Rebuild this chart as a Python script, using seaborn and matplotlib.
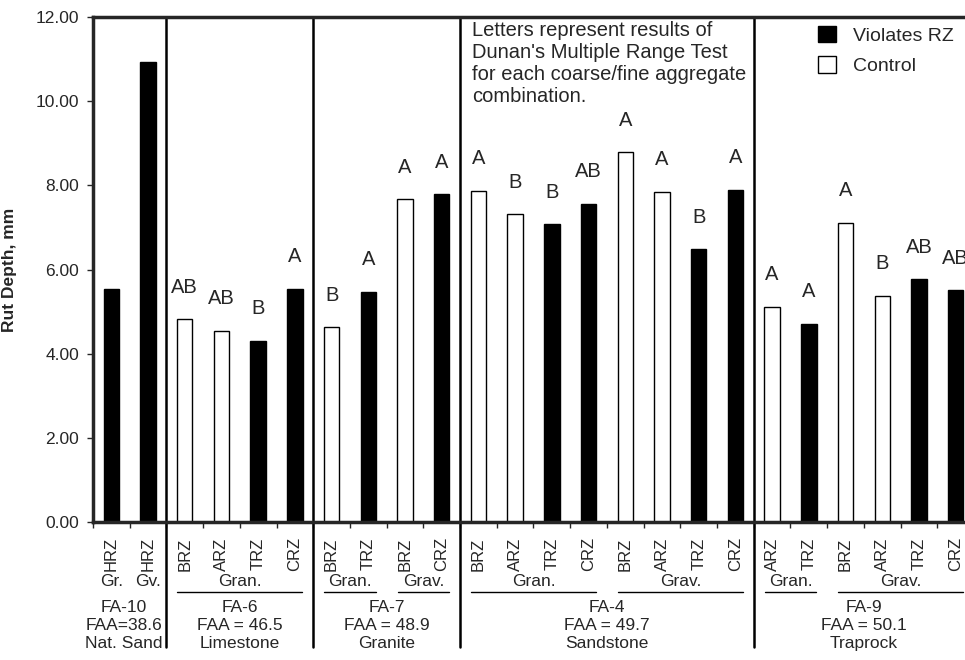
import matplotlib
matplotlib.use("Agg")
import pandas as pd
import seaborn as sns
from matplotlib import pyplot as plt
from matplotlib import transforms

sns.set_theme(style="ticks")
plt.rcParams["font.family"] = ["Liberation Sans", "DejaVu Sans"]

# fine aggregate groups (one entry per group)
groups = ["FA-10", "FA-6", "FA-7", "FA-4", "FA-9"]
faa_labels = ["FAA=38.6", "FAA = 46.5", "FAA = 48.9", "FAA = 49.7", "FAA = 50.1"]
rock_labels = ["Nat. Sand", "Limestone", "Granite", "Sandstone", "Traprock"]

# one entry per bar
bar_group = ["FA-10"] * 2 + ["FA-6"] * 4 + ["FA-7"] * 4 + ["FA-4"] * 8 + ["FA-9"] * 6
bar_coarse = (["Gr.", "Gv."] + ["Gran."] * 4 + ["Gran.", "Gran.", "Grav.", "Grav."]
              + ["Gran."] * 4 + ["Grav."] * 4 + ["Gran.", "Gran."] + ["Grav."] * 4)
zones = ["HRZ", "HRZ",
         "BRZ", "ARZ", "TRZ", "CRZ",
         "BRZ", "TRZ", "BRZ", "CRZ",
         "BRZ", "ARZ", "TRZ", "CRZ", "BRZ", "ARZ", "TRZ", "CRZ",
         "ARZ", "TRZ", "BRZ", "ARZ", "TRZ", "CRZ"]
rut_depth = [5.54, 10.93,
             4.82, 4.55, 4.31, 5.54,
             4.63, 5.47, 7.67, 7.79,
             7.87, 7.31, 7.08, 7.56, 8.79, 7.85, 6.48, 7.89,
             5.12, 4.71, 7.11, 5.38, 5.77, 5.51]
V, C = "Violates RZ", "Control"
status = [V, V,
          C, C, V, V,
          C, V, C, V,
          C, C, V, V, C, C, V, V,
          C, V, C, C, V, V]
letters = ["", "",
           "AB", "AB", "B", "A",
           "B", "A", "A", "A",
           "A", "B", "B", "AB", "A", "A", "B", "A",
           "A", "A", "A", "B", "AB", "AB"]

df = pd.DataFrame({
    "bar": [str(i) for i in range(len(zones))],
    "depth": rut_depth,
    "status": status,
})

fig = plt.figure(figsize=(9.65, 6.6), dpi=100)
ax = fig.add_axes([93 / 965, 138 / 660, 881 / 965, 505 / 660])

sns.barplot(data=df, x="bar", y="depth", hue="status", hue_order=[V, C],
            palette={V: "black", C: "white"}, dodge=False, width=0.42,
            edgecolor="black", linewidth=1, errorbar=None, ax=ax)

ax.set_xlim(-0.5, len(zones) - 0.5)
ax.set_ylim(0, 12)
ax.set_yticks(range(0, 13, 2))
ax.set_yticklabels([f"{v:.2f}" for v in range(0, 13, 2)], fontsize=12.5)
ax.set_xticks(range(len(zones)))
ax.set_xticklabels(zones, rotation=90, fontsize=12)
ax.set_xticks([i - 0.5 for i in range(len(zones) + 1)], minor=True)
ax.tick_params(axis="x", which="major", length=0, pad=11)
ax.tick_params(axis="x", which="minor", length=4, width=1, direction="out")
ax.tick_params(axis="y", length=4, width=1, direction="out", pad=6)
ax.set_xlabel("")
ax.set_ylabel("Rut Depth, mm", fontsize=12.5, fontweight="bold")
ax.yaxis.set_label_coords(-0.086, 0.5)
for side in ["top", "left", "bottom"]:
    ax.spines[side].set_linewidth(2.5)
ax.spines["right"].set_visible(False)

# significance letters above bars
for i, (val, let) in enumerate(zip(rut_depth, letters)):
    if let:
        ax.text(i, val + 0.76, let, ha="center", va="center", fontsize=14.5)

trans = transforms.blended_transform_factory(ax.transData, ax.transAxes)

# group separators, reaching down into the label area
for i in range(1, len(bar_group)):
    if bar_group[i] != bar_group[i - 1]:
        ax.plot([i - 0.5, i - 0.5], [-0.248, 1], transform=trans, color="black",
                lw=1.8, clip_on=False)

# coarse aggregate labels with underlines
start = 0
for i in range(1, len(bar_group) + 1):
    if i == len(bar_group) or bar_group[i] != bar_group[start] or bar_coarse[i] != bar_coarse[start]:
        end = i - 1
        ax.text((start + end) / 2, -0.117, bar_coarse[start], transform=trans,
                ha="center", va="center", fontsize=12.5)
        if end > start:
            ax.plot([start - 0.2, end + 0.2], [-0.139, -0.139], transform=trans,
                    color="black", lw=1, clip_on=False)
        start = i

# fine aggregate group labels
for g, faa, rock in zip(groups, faa_labels, rock_labels):
    idx = [i for i, b in enumerate(bar_group) if b == g]
    label = f"{g}\n{faa}\n{rock}"
    if idx[0] == 0:
        ax.text(idx[-1] + 0.4, -0.155, label, transform=trans, ha="right",
                va="top", multialignment="center", fontsize=12.5, linespacing=1.22)
    else:
        ax.text((idx[0] + idx[-1]) / 2, -0.155, label, transform=trans, ha="center",
                va="top", multialignment="center", fontsize=12.5, linespacing=1.22)

ax.text(9.83, 0.993, "Letters represent results of\nDunan's Multiple Range Test\n"
        "for each coarse/fine aggregate\ncombination.", transform=trans,
        ha="left", va="top", fontsize=14.5, linespacing=1.2)

handles, labels = ax.get_legend_handles_labels()
ax.legend(handles, labels, loc="upper left", bbox_to_anchor=(818 / 965, 1 - 26 / 660),
          bbox_transform=fig.transFigure, frameon=False, fontsize=14,
          handlelength=0.9, handleheight=0.9, handletextpad=0.9,
          labelspacing=0.6, borderpad=0, borderaxespad=0)

fig.savefig("out.png", dpi=100)
